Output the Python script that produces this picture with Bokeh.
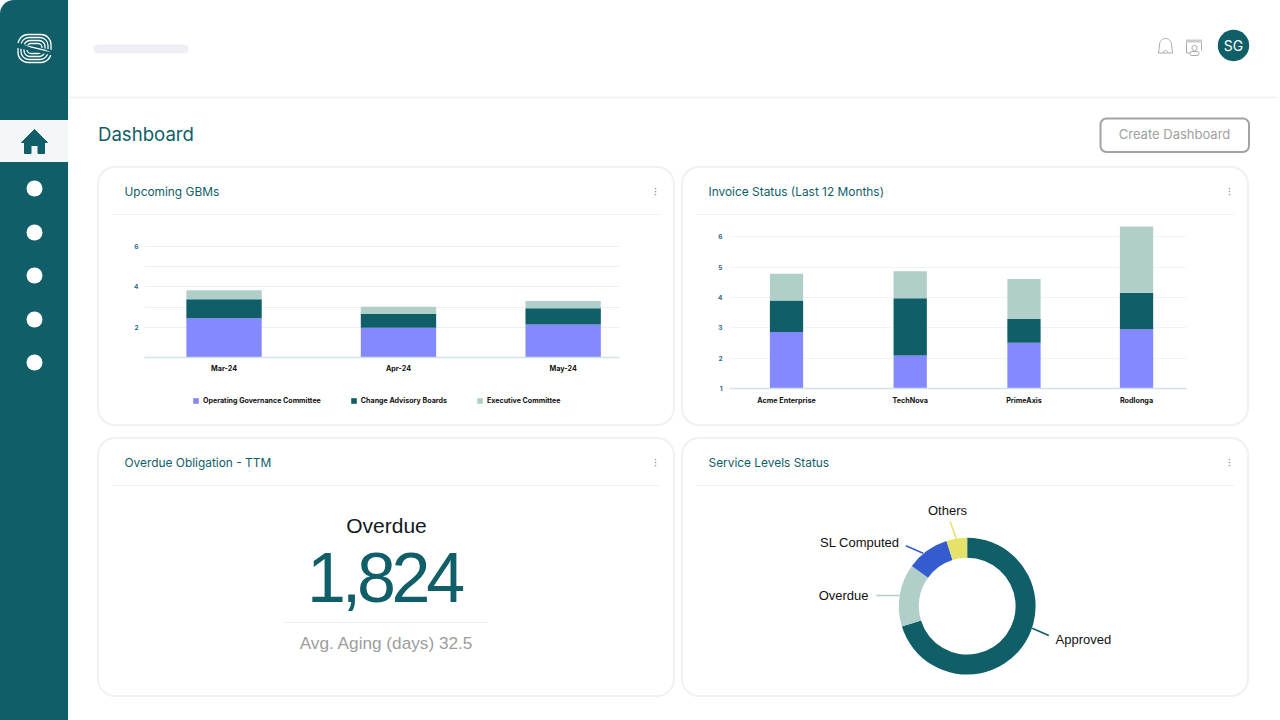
import numpy as np
from bokeh.plotting import figure
from bokeh.layouts import row, column
from bokeh.models import (Range1d, Label, Legend, LegendItem, FixedTicker)
from bokeh.embed import file_html
from bokeh.resources import INLINE

# ---------- data ----------
gbm_months = ["Mar-24", "Apr-24", "May-24"]
gbm_slots = [0.0, 1.0, 1.944]
gbm_governance = [2.45, 1.97, 2.13]
gbm_advisory = [0.94, 0.69, 0.81]
gbm_executive = [0.44, 0.36, 0.36]
gbm_series = ["Operating Governance Committee", "Change Advisory Boards", "Executive Committee"]
gbm_ticks = [2, 3, 4, 5, 6]
gbm_labelled = [2, 4, 6]

inv_clients = ["Acme Enterprise", "TechNova", "PrimeAxis", "Rodlonga"]
inv_slots = [0.0, 1.0, 1.92, 2.83]
inv_first = [2.86, 2.09, 2.51, 2.95]
inv_second = [1.04, 1.89, 0.78, 1.21]
inv_third = [0.88, 0.89, 1.32, 2.18]
inv_ticks = [1, 2, 3, 4, 5, 6]

sl_labels = ["Approved", "Overdue", "SL Computed", "Others"]
sl_values = [70.2, 14.8, 10.1, 4.9]

kpi_title = "Overdue"
kpi_value = "1,824"
kpi_note = "Avg. Aging (days) 32.5"

# ---------- style ----------
TEAL = "#0F5E68"
PURPLE = "#8589FF"
LIGHT = "#B1CFC9"
BLUE = "#355CCF"
YELLOW = "#E6E168"
RULE = "#F0F1F3"
UI = "Inter"
ARIAL = "Liberation Sans"
TITLE_SIZE = 11.9
CARD_STYLE = {"box-shadow": "inset 0 0 0 2px #EFF1F2", "border-radius": "18px"}


def Y(y):
    return 720 - y


def panel(x0, x1, y0, y1, margin=(0, 0, 0, 0), styles=None):
    """A figure whose frame fills it, addressed in page pixels."""
    p = figure(width=x1 - x0, height=y1 - y0, output_backend="svg", toolbar_location=None,
               x_range=Range1d(x0, x1), y_range=Range1d(Y(y1), Y(y0)),
               min_border=0, margin=margin, outline_line_color=None,
               background_fill_color=None, border_fill_color=None, frame_align=False)
    p.axis.visible = False
    p.grid.visible = False
    if styles:
        p.styles = styles
    return p


def text(p, x, y, s, size, color, font=UI, align="left", style="normal"):
    p.add_layout(Label(x=x, y=y, text=s, text_font=font, text_font_size=f"{size}px",
                       text_color=color, text_align=align, text_baseline="middle",
                       text_font_style=style))


def card_header(x0, x1, y0, y1, title):
    p = panel(x0, x1, y0, y1)
    text(p, x0 + 27, Y(y0 + 25), title, TITLE_SIZE, TEAL)
    p.line([x0 + 15, x1 - 15], [Y(y0 + 48), Y(y0 + 48)], line_color=RULE, line_width=1)
    dx = x1 - 20
    p.scatter([dx, dx, dx], [Y(y0 + 22), Y(y0 + 25), Y(y0 + 28)], size=1.7, color="#9AA0A3", line_color=None)
    return p


# ---------- sidebar ----------
side = panel(0, 68, 0, 720, styles={
    "background": f"linear-gradient(to bottom, {TEAL} 120px, #F4F7F7 120px, #F4F7F7 162px, {TEAL} 162px)",
    "border-top-left-radius": "14px"})
# logo
for dx, dy, rr in [(16.5, 14, 10), (13.5, 11, 8), (10.5, 8, 6), (7.5, 5, 4)]:
    side.quad(left=[34 - dx], right=[34 + dx], top=[Y(48 - dy)], bottom=[Y(48 + dy)],
              fill_color=None, line_color="white", line_width=1.3, border_radius=rr)
side.line([15, 53], [Y(44.5), Y(52.5)], line_color=TEAL, line_width=5)
side.patch([23, 44, 51, 30], [Y(44), Y(49), Y(52), Y(47)], color="white", line_color=None)
# home icon
side.patch([34, 47, 44, 44, 37.5, 37.5, 30.5, 30.5, 24, 24, 21],
           [Y(129), Y(142), Y(142), Y(153), Y(153), Y(145), Y(145), Y(153), Y(153), Y(142), Y(142)],
           color=TEAL, line_color=TEAL, line_join="round")
side.circle([34, 34, 34, 34, 34], [Y(188), Y(232), Y(275), Y(319), Y(362)], radius=8,
            color="white", line_color=None)

# ---------- page header ----------
head = panel(68, 1280, 0, 166)
head.quad(left=[93], right=[188], top=[Y(44)], bottom=[Y(53)], color="#EFEFF5", line_color=None,
          border_radius=4)
head.line([68, 1276], [Y(97), Y(97)], line_color="#EEF0F2", line_width=1.5)
text(head, 97.5, Y(133), "Dashboard", 18.6, TEAL)
head.quad(left=[1100], right=[1248.5], top=[Y(118)], bottom=[Y(151.5)], fill_color="white",
          line_color="#A3A3A3", line_width=2, border_radius=6)
text(head, 1174, Y(133.5), "Create Dashboard", 13, "#A0A0A0", align="center")
head.circle([1233], [Y(45)], radius=15.7, color=TEAL, line_color=None)
text(head, 1233, Y(44.5), "SG", 14, "white", align="center")
# bell
t = np.linspace(np.pi, 0, 24)
bx = list(1165 + 6 * np.cos(t))
by = list(44.5 - 6.5 * np.sin(t))
head.line([1158] + bx + [1172, 1158], [Y(52.5)] + [Y(v) for v in by] + [Y(52.5), Y(52.5)],
          line_color="#A9ADAF", line_width=1)
t2 = np.linspace(np.pi, 2 * np.pi, 12)
head.line(list(1165 + 2.5 * np.cos(t2)), [Y(v) for v in 52.5 + 2.5 * np.sin(t2)],
          line_color="#A9ADAF", line_width=1)
# window with user
head.line([1196, 1186, 1186, 1190], [Y(52.5), Y(52.5), Y(40), Y(40)], line_color="#A9ADAF", line_width=1)
head.quad(left=[1185.5], right=[1201.5], top=[Y(39)], bottom=[Y(42)], color="#C8CBCD", line_color=None)
head.line([1201, 1201], [Y(42), Y(50)], line_color="#A9ADAF", line_width=1)
head.circle([1194], [Y(47.5)], radius=2.6, fill_color=None, line_color="#A9ADAF", line_width=1)
head.quad(left=[1189.5], right=[1198.5], top=[Y(51)], bottom=[Y(55)], fill_color="white",
          line_color="#A9ADAF", line_width=1, border_radius=2)


# ---------- bar cards ----------
def bar_chart(W, H, left, right, top, bottom, x_range, y_range):
    p = figure(width=W, height=H, output_backend="svg", toolbar_location=None,
               x_range=x_range, y_range=y_range,
               min_border_left=left, min_border_right=right,
               min_border_top=top, min_border_bottom=bottom, frame_align=False,
               outline_line_color=None, background_fill_color=None, border_fill_color=None)
    p.xgrid.visible = False
    for ax in (p.xaxis[0], p.yaxis[0]):
        ax.major_tick_line_color = None
        ax.minor_tick_line_color = None
    p.yaxis[0].axis_line_color = None
    p.yaxis[0].major_label_text_color = "#2B6A8C"
    p.yaxis[0].major_label_text_font = UI
    p.yaxis[0].major_label_text_font_style = "bold"
    p.xaxis[0].major_label_text_font = UI
    p.xaxis[0].major_label_text_color = "#111"
    p.xaxis[0].major_label_text_font_style = "bold"
    p.xaxis[0].axis_line_color = "#CFE2EC"
    p.xaxis[0].axis_line_width = 1.5
    return p


# card 1
c1 = bar_chart(578, 165, 47, 56, 21, 28, Range1d(-0.456, 2.267), Range1d(0.5, 6.25))
gbm = dict(x=gbm_slots, a=gbm_governance, b=gbm_advisory, c=gbm_executive)
c1.vbar_stack(["a", "b", "c"], x="x", width=0.432, source=gbm,
              color=[PURPLE, TEAL, LIGHT], line_color=None)
c1.xaxis[0].ticker = FixedTicker(ticks=gbm_slots)
c1.xaxis[0].major_label_overrides = {s: m for s, m in zip(gbm_slots, gbm_months)}
c1.xaxis[0].major_label_text_font_size = "7.2px"
c1.xaxis[0].major_label_standoff = 0
c1.yaxis[0].ticker = FixedTicker(ticks=gbm_ticks)
c1.yaxis[0].major_label_overrides = {v: (str(v) if v in gbm_labelled else "") for v in gbm_ticks}
c1.yaxis[0].major_label_text_font_size = "6.5px"
c1.yaxis[0].major_label_standoff = 0
c1.ygrid[0].ticker = FixedTicker(ticks=gbm_ticks)
c1.ygrid[0].grid_line_color = "#E6F0F5"
c1.ygrid[0].grid_line_width = 1.2
# the legend lives in a footer strip, with swatches in the same three series colours
foot = panel(97, 675, 385, 426)
swatches = [foot.vbar(x=[-500], top=[1], width=1, color=c, line_color=None) for c in (PURPLE, TEAL, LIGHT)]
legend = Legend(items=[LegendItem(label=n, renderers=[r]) for n, r in zip(gbm_series, swatches)],
                orientation="horizontal", location=(95, 21), border_line_color=None,
                background_fill_color=None, padding=0, margin=0, spacing=29, glyph_width=7,
                glyph_height=7, label_standoff=4, label_text_font=UI, label_text_font_size="7.1px",
                label_text_color="#111", label_text_font_style="bold", label_height=8)
foot.add_layout(legend)
card1 = column(card_header(97, 675, 166, 220, "Upcoming GBMs"), c1, foot, styles=CARD_STYLE, margin=(0, 0, 0, 29))

# card 2
c2 = bar_chart(568, 206, 48, 63, 0, 38, Range1d(-0.461, 3.234), Range1d(1, 6.54))
inv = dict(x=inv_slots, a=inv_first, b=inv_second, c=inv_third)
c2.vbar_stack(["a", "b", "c"], x="x", width=0.269, source=inv, color=[PURPLE, TEAL, LIGHT], line_color=None)
c2.xaxis[0].ticker = FixedTicker(ticks=inv_slots)
c2.xaxis[0].major_label_overrides = {s: m for s, m in zip(inv_slots, inv_clients)}
c2.xaxis[0].major_label_text_font_size = "7.2px"
c2.xaxis[0].major_label_standoff = 1
c2.yaxis[0].ticker = FixedTicker(ticks=inv_ticks)
c2.yaxis[0].major_label_text_font_size = "6.5px"
c2.yaxis[0].major_label_standoff = 1
c2.ygrid[0].ticker = FixedTicker(ticks=inv_ticks)
c2.ygrid[0].grid_line_color = "#EEF5F6"
c2.ygrid[0].grid_line_width = 1.2
card2 = column(card_header(681, 1249, 166, 220, "Invoice Status (Last 12 Months)"), c2,
               styles=CARD_STYLE, margin=(0, 0, 0, 6))

# ---------- KPI card ----------
k_head = card_header(97, 675, 437, 542, "Overdue Obligation - TTM")
text(k_head, 386, Y(525), kpi_title, 21, "#12181C", font=ARIAL, align="center")
k_num = panel(97, 675, 528, 620, margin=(-14, 0, 0, 0), styles={"letter-spacing": "-4.2px"})
text(k_num, 394, Y(576.5), kpi_value, 70, TEAL, font=ARIAL, align="center")
k_foot = panel(97, 675, 620, 697)
k_foot.line([284, 488], [Y(622), Y(622)], line_color="#EDEEF0", line_width=1)
text(k_foot, 386, Y(642), kpi_note, 17.2, "#9C9C9C", font=ARIAL, align="center")
card3 = column(k_head, k_num, k_foot, styles=CARD_STYLE, margin=(11, 0, 0, 29))

# ---------- donut card ----------
d_head = card_header(681, 1249, 437, 697, "Service Levels Status")
colors = [TEAL, LIGHT, BLUE, YELLOW]
vals = np.array(sl_values, dtype=float)
edges = np.concatenate([[0], np.cumsum(vals) / vals.sum()])
starts = np.pi / 2 - 2 * np.pi * edges[:-1]
ends = np.pi / 2 - 2 * np.pi * edges[1:]
d_head.annular_wedge([966.7] * 4, [Y(605.7)] * 4, inner_radius=48.4, outer_radius=68.4,
                     start_angle=starts, end_angle=ends, direction="clock", color=colors, line_color=None)
leaders = [((1031.7, 627.7), (1048.3, 635)), ((876, 595), (899, 595)),
           ((905.3, 545.3), (922.7, 552.7)), ((949.7, 521), (955.7, 538.3))]
for (a, b), col in zip(leaders, colors):
    d_head.line([a[0], b[0]], [Y(a[1]), Y(b[1])], line_color=col, line_width=1.5)
text(d_head, 1055, Y(638.5), sl_labels[0], 13, "#111", font=ARIAL)
text(d_head, 868, Y(594.5), sl_labels[1], 13, "#111", font=ARIAL, align="right")
text(d_head, 899, Y(541.5), sl_labels[2], 13, "#111", font=ARIAL, align="right")
text(d_head, 947, Y(509.5), sl_labels[3], 13, "#111", font=ARIAL, align="center")
d_head.styles = CARD_STYLE
d_head.margin = (11, 0, 0, 6)

page = row(side, column(head, row(card1, card2), row(card3, d_head)))
open("out.html", "w").write(file_html(page, INLINE))
